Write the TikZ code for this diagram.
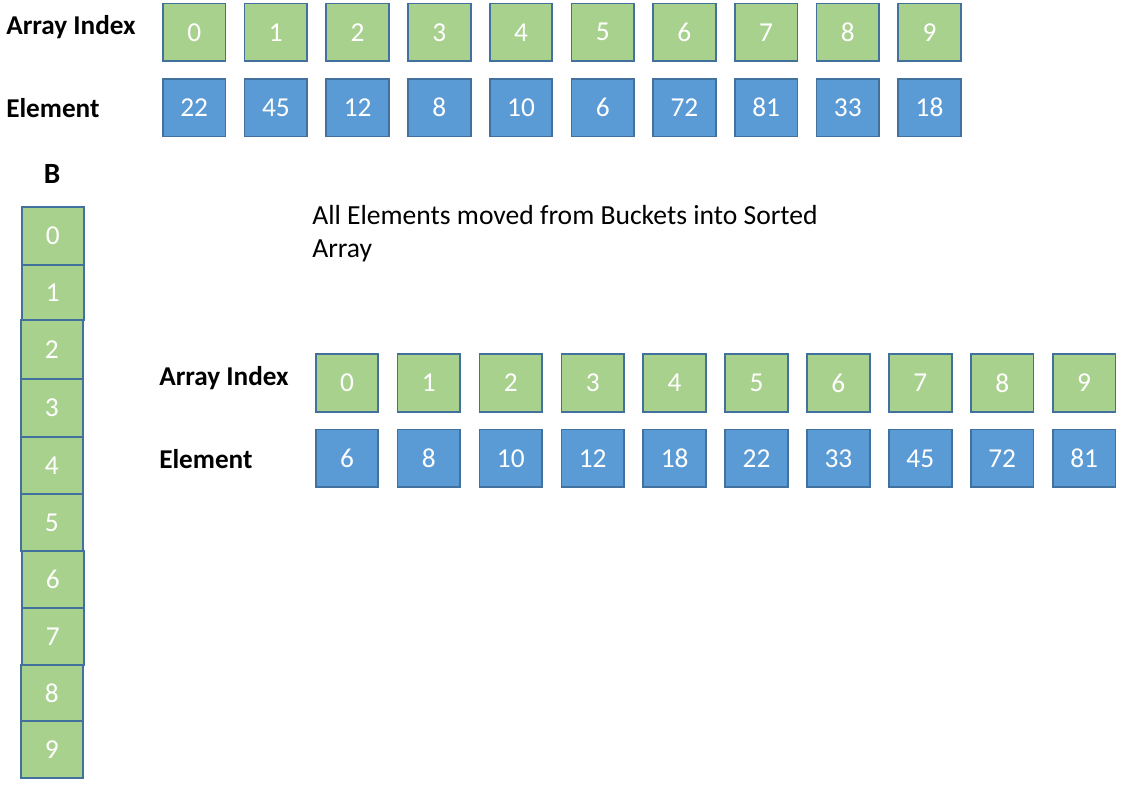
\documentclass[tikz,border=0pt]{standalone}
\usepackage{fontspec}
\setmainfont{Carlito}
\definecolor{gfill}{HTML}{A9D18E}
\definecolor{bfill}{HTML}{5B9BD5}
\definecolor{bord}{HTML}{41719C}
\begin{document}
\begin{tikzpicture}[x=0.75pt,y=-0.75pt,
  cell/.style={draw=bord, line width=1.3pt, minimum width=47pt, minimum height=43.3pt, inner sep=0pt, text=white, font=\fontsize{20.5}{22}\selectfont},
  idx/.style={cell, fill=gfill},
  elem/.style={cell, fill=bfill},
  col/.style={draw=bord, line width=1.8pt, fill=gfill, minimum width=46.5pt, inner sep=0pt, text=white, font=\fontsize{20.5}{22}\selectfont},
  lbl/.style={anchor=west, inner sep=0pt, font=\bfseries\fontsize{20.4}{22}\selectfont},
  txt/.style={anchor=north west, inner sep=0pt, align=left, font=\fontsize{20.7}{24.8}\selectfont}]
\useasboundingbox (0,0) rectangle (1128,785);
% top rows
\node[lbl] (tlblA) at (6,27) {Array Index};
\node[lbl] (tlblE) at (6,108) {Element};
\foreach \v [count=\i from 0] in {0,1,2,3,4,5,6,7,8,9} {
  \node[idx] (ti\i) at (194.2+81.7*\i,32.3) {\v};
}
\foreach \v [count=\i from 0] in {22,45,12,8,10,6,72,81,33,18} {
  \node[elem] (te\i) at (194.2+81.7*\i,107.7) {\v};
}
% bucket column
\node[inner sep=0pt, font=\bfseries\fontsize{22}{24}\selectfont] (B) at (52,174) {B};
\foreach \v/\cx/\cy/\h in {0/52.8/236/58, 1/52.8/292.5/55, 2/51.7/349.4/58.7, 3/51.7/407.7/58, 4/51.7/465.4/57.3, 5/51.7/522.5/57, 6/52.8/579.5/57, 7/52.8/636.5/57, 8/51.7/693/56, 9/51.7/749.4/56.7} {
  \node[col, minimum height=\h*0.75pt] (b\v) at (\cx,\cy) {\v};
}
% caption
\node[txt] (cap) at (312,205) {All Elements moved from Buckets into Sorted\\Array};
% bottom rows
\node[lbl] (blblA) at (159,378) {Array Index};
\node[lbl] (blblE) at (159,459) {Element};
\foreach \v [count=\i from 0] in {0,1,2,3,4,5,6,7,8,9} {
  \node[idx] (bi\i) at (347+81.9*\i,383) {\v};
}
\foreach \v [count=\i from 0] in {6,8,10,12,18,22,33,45,72,81} {
  \node[elem] (be\i) at (347+81.9*\i,458.4) {\v};
}
\end{tikzpicture}
\end{document}
